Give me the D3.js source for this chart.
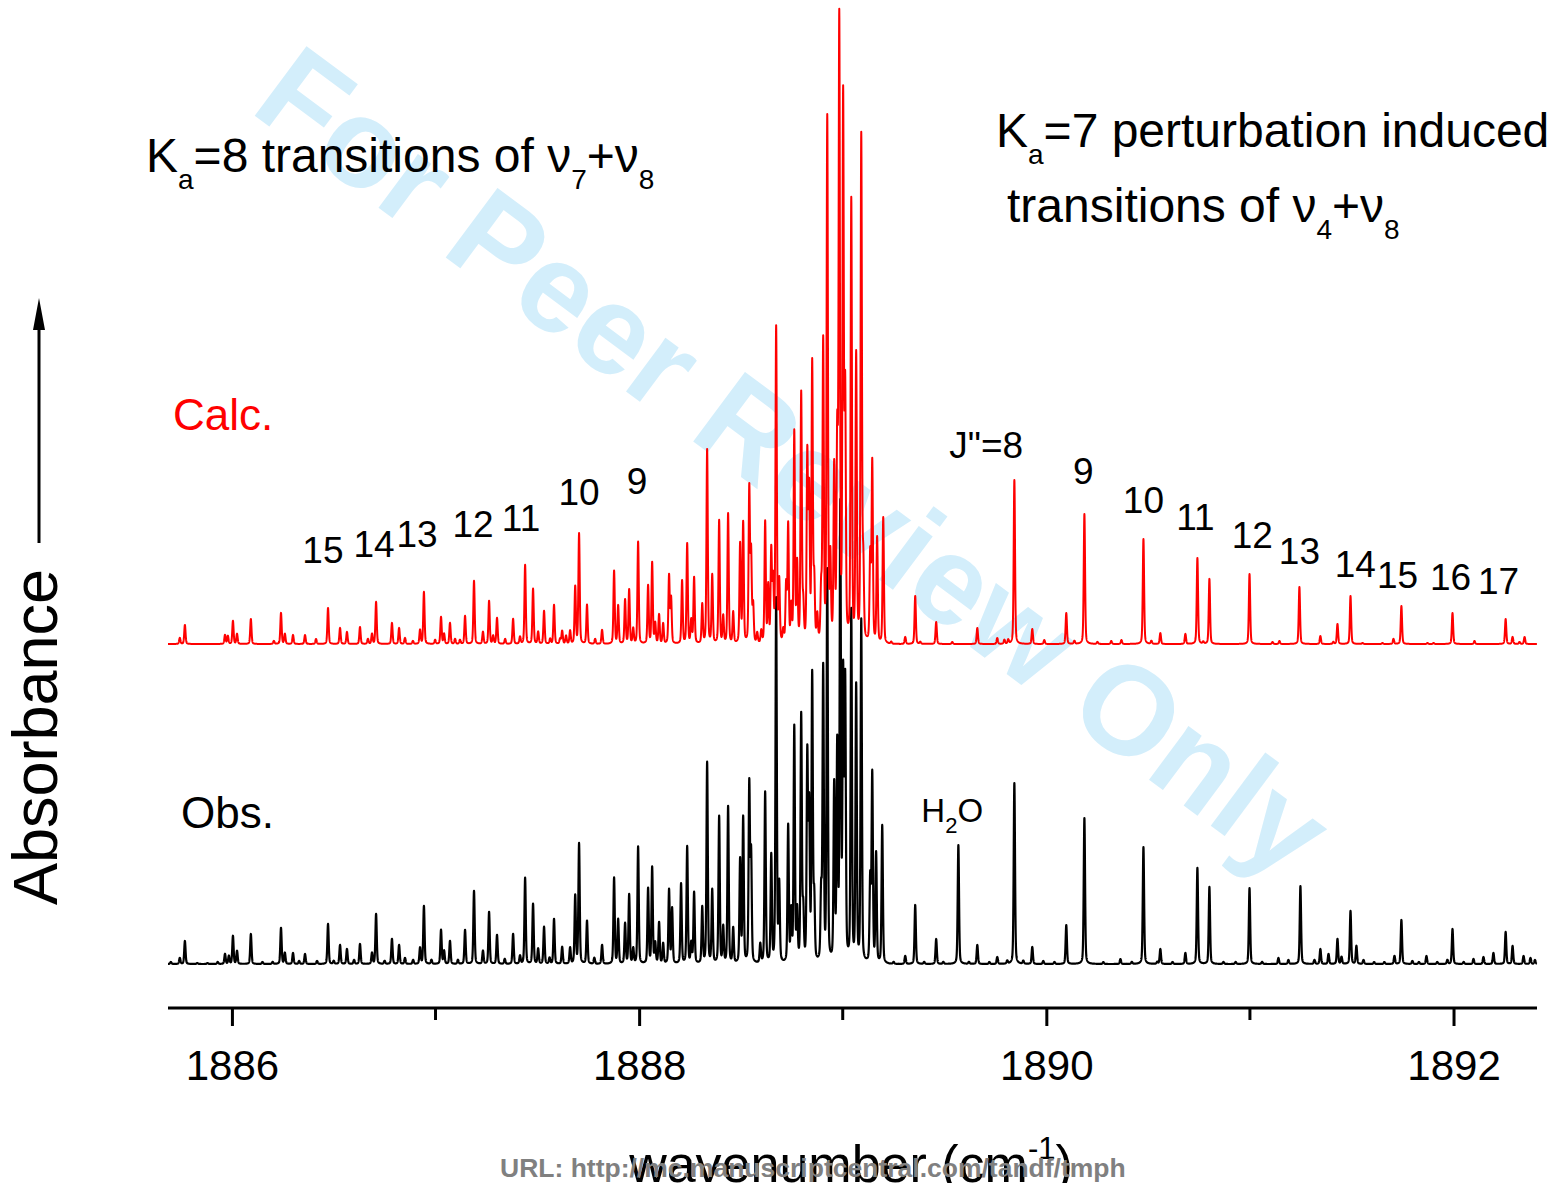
<!DOCTYPE html>
<html>
<head>
<meta charset="utf-8">
<script src="https://cdn.jsdelivr.net/npm/d3@7"></script>
<style>
  body { margin: 0; background: #fff; }
  svg { display: block; }
  text { font-family: "Liberation Sans", Arial, Helvetica, sans-serif; }
</style>
</head>
<body>
<svg id="chart" width="1557" height="1183"></svg>
<script>
// Line lists: [wavenumber (cm-1), peak absorbance (arb. units)]
const calcLines = [
  [1885.744,6],[1885.769,19],[1885.966,9],[1885.980,8],[1886.005,23],[1886.025,10],[1886.093,25],[1886.206,3],
  [1886.241,31],[1886.260,10],[1886.300,9],[1886.359,9],[1886.413,5],[1886.472,36],[1886.531,16],[1886.565,12],
  [1886.629,17],[1886.668,5],[1886.688,10],[1886.708,42],[1886.786,21],[1886.821,16],[1886.850,6],[1886.889,3],
  [1886.924,14],[1886.943,52],[1886.998,4],[1887.027,27],[1887.042,10],[1887.071,21],[1887.096,5],[1887.120,4],
  [1887.145,28],[1887.189,63],[1887.233,12],[1887.263,43],[1887.283,8],[1887.302,26],[1887.342,5],[1887.381,25],
  [1887.415,7],[1887.440,79],[1887.479,55],[1887.504,12],[1887.533,33],[1887.563,5],[1887.582,39],[1887.612,5],
  [1887.622,13],[1887.641,8],[1887.661,13],[1887.686,57],[1887.705,110],[1887.744,39],[1887.784,5],[1887.818,14],
  [1887.877,73],[1887.897,38],[1887.931,44],[1887.951,54],[1887.971,15],[1887.995,102],[1888.044,58],[1888.064,81],
  [1888.079,20],[1888.098,29],[1888.118,20],[1888.147,68],[1888.157,45],[1888.211,63],[1888.236,100],[1888.256,23],
  [1888.270,66],[1888.310,39],[1888.334,194],[1888.359,68],[1888.393,123],[1888.413,27],[1888.437,130],[1888.462,31],
  [1888.496,99],[1888.511,120],[1888.541,154],[1888.550,88],[1888.560,37],[1888.580,10],[1888.600,12],[1888.619,121],
  [1888.634,56],[1888.649,91],[1888.658,60],[1888.673,315],[1888.688,60],[1888.708,12],[1888.722,57],[1888.732,117],
  [1888.747,35],[1888.762,210],[1888.776,77],[1888.796,248],[1888.806,35],[1888.826,185],[1888.835,147],[1888.850,277],
  [1888.860,60],[1888.875,25],[1888.894,50],[1888.904,298],[1888.924,522],[1888.939,81],[1888.958,171],[1888.973,195],
  [1888.983,615],[1889.002,536],[1889.012,241],[1889.042,440],[1889.066,285],[1889.091,505],[1889.101,73],[1889.135,87],
  [1889.145,180],[1889.169,105],[1889.199,126],[1889.238,2],[1889.307,7],[1889.356,48],[1889.381,2],[1889.459,22],
  [1889.538,2],[1889.661,16],[1889.759,6],[1889.794,4],[1889.813,4],[1889.843,164],[1889.931,15],[1889.990,4],
  [1890.098,31],[1890.138,3],[1890.187,130],[1890.251,2],[1890.319,3],[1890.369,4],[1890.477,105],[1890.516,3],
  [1890.560,11],[1890.683,10],[1890.742,86],[1890.771,2],[1890.801,65],[1890.998,70],[1891.111,2],[1891.145,3],
  [1891.243,57],[1891.346,8],[1891.410,2],[1891.430,20],[1891.494,48],[1891.553,1],[1891.651,1],[1891.705,5],
  [1891.744,38],[1891.872,1],[1891.902,1],[1891.995,31],[1892.103,3],[1892.256,25],[1892.290,7],[1892.324,2],
  [1892.349,7]
];

const obsLines = [
  [1885.700,2],[1885.744,6],[1885.769,23],[1885.830,1],[1885.880,1],[1885.930,2],[1885.966,10],[1885.985,8],
  [1886.005,28],[1886.025,13],[1886.093,30],[1886.150,2],[1886.200,2],[1886.241,36],[1886.260,11],[1886.300,11],
  [1886.330,3],[1886.359,10],[1886.418,3],[1886.472,40],[1886.500,3],[1886.531,19],[1886.565,15],[1886.600,4],
  [1886.629,20],[1886.688,11],[1886.708,50],[1886.750,3],[1886.786,25],[1886.821,19],[1886.850,6],[1886.890,4],
  [1886.924,16],[1886.943,58],[1886.980,4],[1887.027,34],[1887.042,13],[1887.071,23],[1887.110,4],[1887.145,34],
  [1887.189,73],[1887.233,13],[1887.263,52],[1887.302,29],[1887.340,5],[1887.381,30],[1887.415,8],[1887.440,86],
  [1887.479,60],[1887.504,15],[1887.533,37],[1887.560,6],[1887.582,45],[1887.622,17],[1887.661,16],[1887.686,68],
  [1887.705,120],[1887.744,43],[1887.780,6],[1887.818,19],[1887.877,86],[1887.897,44],[1887.931,40],[1887.951,69],
  [1887.971,15],[1887.995,117],[1888.044,75],[1888.064,96],[1888.079,20],[1888.098,41],[1888.118,20],[1888.147,74],
  [1888.162,55],[1888.206,80],[1888.236,117],[1888.256,20],[1888.270,71],[1888.310,56],[1888.334,201],[1888.359,73],
  [1888.393,147],[1888.413,36],[1888.437,157],[1888.462,35],[1888.496,103],[1888.511,145],[1888.541,178],[1888.550,107],
  [1888.595,19],[1888.619,171],[1888.649,107],[1888.673,364],[1888.688,77],[1888.732,137],[1888.747,50],[1888.762,235],
  [1888.776,50],[1888.796,246],[1888.806,50],[1888.826,205],[1888.835,151],[1888.850,285],[1888.860,62],[1888.894,68],
  [1888.904,292],[1888.924,390],[1888.958,175],[1888.973,213],[1888.988,450],[1889.002,278],[1889.012,275],[1889.042,350],
  [1889.066,275],[1889.091,342],[1889.135,83],[1889.145,188],[1889.164,109],[1889.194,138],[1889.250,2],[1889.307,8],
  [1889.356,59],[1889.400,2],[1889.459,25],[1889.494,2],[1889.568,119],[1889.620,2],[1889.661,19],[1889.720,2],
  [1889.759,7],[1889.808,3],[1889.843,181],[1889.887,3],[1889.931,17],[1889.985,3],[1890.040,2],[1890.098,39],
  [1890.187,146],[1890.280,2],[1890.364,5],[1890.420,2],[1890.477,117],[1890.545,2],[1890.560,15],[1890.620,2],
  [1890.683,11],[1890.742,96],[1890.801,77],[1890.870,2],[1890.930,2],[1890.998,76],[1891.060,2],[1891.140,6],
  [1891.189,4],[1891.248,78],[1891.317,4],[1891.346,15],[1891.386,10],[1891.430,25],[1891.450,7],[1891.494,53],
  [1891.523,18],[1891.558,4],[1891.610,2],[1891.660,2],[1891.710,8],[1891.744,44],[1891.798,3],[1891.830,2],
  [1891.867,8],[1891.920,2],[1891.970,4],[1891.995,35],[1892.050,2],[1892.098,5],[1892.147,7],[1892.196,11],
  [1892.256,32],[1892.290,18],[1892.344,8],[1892.378,6],[1892.400,4]
];

// J" assignment labels: [text, wavenumber, height above observed baseline]
const jLabelsLeft = [
  ["15",1886.447,401],["14",1886.698,407],["13",1886.909,417],["12",1887.184,427],
  ["11",1887.420,433],["10",1887.705,459],["9",1887.990,470]
];
const jLabelsRight = [
  ["J\"=8",1889.705,506],["9",1890.182,480],["10",1890.477,451],["11",1890.732,434],["12",1891.012,416],
  ["13",1891.243,400],["14",1891.518,387],["15",1891.725,376],["16",1891.985,374],["17",1892.221,370]
];
const majorTicks = [1886, 1888, 1890, 1892];
const minorTicks = [1887, 1889, 1891];

const svg = d3.select("#chart");
const x = d3.scaleLinear().domain([1885.686, 1892.41]).range([168, 1537]);
const y = d3.scaleLinear().domain([0, 952]).range([964, 12]);
const calcOffset = 320;

// Watermark
svg.append("text")
  .attr("transform", "translate(794,462) rotate(36.6)")
  .attr("text-anchor", "middle")
  .attr("dominant-baseline", "central")
  .attr("font-size", 126)
  .attr("font-weight", "bold")
  .attr("fill", "#d3eefb")
  .text("For Peer Review Only");

// Pseudo-Voigt line profile
const sigma = 0.0032, gamma = 0.004, eta = 0.3;
function shape(dx) {
  const g = Math.exp(-dx * dx / (2 * sigma * sigma));
  const l = 1 / (1 + (dx / gamma) * (dx / gamma));
  return (1 - eta) * g + eta * l;
}
function spectrum(lines) {
  const [a, b] = x.domain();
  const step = 0.0005;
  const pts = [];
  for (let nu = a; nu <= b + 1e-9; nu += step) {
    let s = 0;
    for (const [c, h] of lines) {
      const dx = nu - c;
      if (Math.abs(dx) < 0.08) s += h * shape(dx);
    }
    pts.push([nu, s]);
  }
  return pts;
}

const obsLine = d3.line().x(d => x(d[0])).y(d => y(d[1]));
const calcLine = d3.line().x(d => x(d[0])).y(d => y(d[1] + calcOffset));

svg.append("path")
  .attr("d", obsLine(spectrum(obsLines)))
  .attr("fill", "none").attr("stroke", "#000").attr("stroke-width", 2.2)
  .attr("stroke-linejoin", "round");

svg.append("path")
  .attr("d", calcLine(spectrum(calcLines)))
  .attr("fill", "none").attr("stroke", "#ff0000").attr("stroke-width", 2)
  .attr("stroke-linejoin", "round");

// J" labels
const jg = svg.append("g").attr("font-size", 37).attr("text-anchor", "middle").attr("fill", "#000");
jg.selectAll("text.jl").data(jLabelsLeft.concat(jLabelsRight)).enter().append("text")
  .attr("x", d => x(d[1])).attr("y", d => y(d[2])).text(d => d[0]);

// H2O label
const h2o = svg.append("text").attr("x", x(1889.386)).attr("y", y(142)).attr("font-size", 33);
h2o.append("tspan").text("H");
h2o.append("tspan").attr("font-size", 22).attr("dy", 11).text("2");
h2o.append("tspan").attr("dy", -11).text("O");

// Trace labels
svg.append("text").attr("x", 173).attr("y", 430).attr("font-size", 44).attr("fill", "#ff0000").text("Calc.");
svg.append("text").attr("x", 181).attr("y", 828).attr("font-size", 44).attr("fill", "#000").text("Obs.");

// Band titles
function title(xp, yp, size, parts) {
  const t = svg.append("text").attr("x", xp).attr("y", yp).attr("font-size", size);
  let shift = 0;
  parts.forEach(([s, sub]) => {
    const dy = sub ? 17 : 0;
    t.append("tspan").attr("dy", dy - shift).attr("font-size", sub ? 28 : size).text(s);
    shift = dy;
  });
}
title(146, 172, 48, [["K"],["a",1],["=8 transitions of \u03bd"],["7",1],["+\u03bd"],["8",1]]);
title(996, 147, 48, [["K"],["a",1],["=7 perturbation induced"]]);
title(1007, 222, 48, [["transitions of \u03bd"],["4",1],["+\u03bd"],["8",1]]);

// Absorbance axis label with arrow
svg.append("text")
  .attr("transform", "translate(57,737) rotate(-90)")
  .attr("text-anchor", "middle").attr("font-size", 63).text("Absorbance");
svg.append("line").attr("x1", 39).attr("x2", 39).attr("y1", 543).attr("y2", 320)
  .attr("stroke", "#000").attr("stroke-width", 3);
svg.append("path").attr("d", "M39,298 L33,330 L45,330 Z").attr("fill", "#000");

// X axis
const axisY = 1008;
const axis = d3.axisBottom(x).tickValues(majorTicks).tickSize(18).tickSizeOuter(0)
  .tickFormat(d3.format("d"));
const ag = svg.append("g").attr("transform", `translate(0,${axisY})`).call(axis);
ag.select(".domain").attr("stroke-width", 3).attr("d", `M${x.range()[0]},0H${x.range()[1]}`);
ag.selectAll(".tick line").attr("stroke-width", 3);
ag.selectAll(".tick text").attr("font-size", 42).attr("y", 72).attr("dy", 0)
  .attr("font-family", "'Liberation Sans', Arial, sans-serif").attr("fill", "#000");
ag.selectAll(".minor").data(minorTicks).enter().append("line").attr("class", "minor")
  .attr("x1", d => x(d)).attr("x2", d => x(d)).attr("y1", 0).attr("y2", 12)
  .attr("stroke", "#000").attr("stroke-width", 3);

// X axis title
const xt = svg.append("text").attr("x", 851).attr("y", 1182).attr("text-anchor", "middle").attr("font-size", 52);
xt.append("tspan").text("wavenumber (cm");
xt.append("tspan").attr("font-size", 31).attr("dy", -23).text("-1");
xt.append("tspan").attr("dy", 23).text(")");

// Footer URL
svg.append("text").attr("x", 500).attr("y", 1177).attr("font-size", 26.5).attr("font-weight", "bold")
  .attr("fill", "#808080").text("URL: http://mc.manuscriptcentral.com/tandf/tmph");
</script>
</body>
</html>
